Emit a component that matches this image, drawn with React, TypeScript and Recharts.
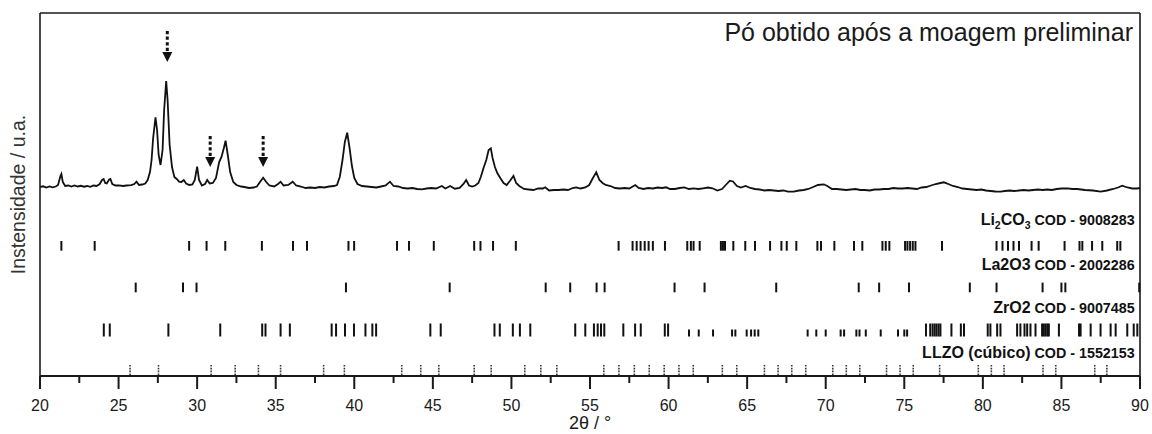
import { ComposedChart, Line, Scatter, XAxis, YAxis, ReferenceLine } from 'recharts';

// diffractogram (2θ in degrees, intensity in arbitrary units)
const twoTheta = [
  20.0, 20.2, 20.4, 20.6, 20.8, 21.0, 21.15, 21.3, 21.36, 21.45, 21.6, 21.8, 22.0, 22.2, 22.4, 22.6, 22.8,
  23.0, 23.2, 23.4, 23.6, 23.8, 23.95, 24.05, 24.15, 24.25, 24.4, 24.48, 24.6, 24.8, 25.0, 25.3, 25.5, 25.8,
  26.0, 26.14, 26.3, 26.5, 26.7, 26.85, 27.0, 27.1, 27.2, 27.35, 27.45, 27.55, 27.67, 27.8, 27.9, 28.03,
  28.12, 28.25, 28.4, 28.55, 28.7, 28.85, 29.0, 29.15, 29.3, 29.5, 29.7, 29.85, 30.0, 30.12, 30.3, 30.5,
  30.64, 30.8, 31.0, 31.2, 31.4, 31.55, 31.7, 31.81, 31.95, 32.1, 32.3, 32.5, 32.8, 33.0, 33.3, 33.6, 33.8,
  34.0, 34.2, 34.4, 34.6, 34.9, 35.15, 35.31, 35.5, 35.8, 36.08, 36.3, 36.6, 36.9, 37.2, 37.5, 37.8, 38.1,
  38.4, 38.7, 38.9, 39.08, 39.25, 39.4, 39.55, 39.7, 39.85, 40.0, 40.2, 40.5, 40.8, 41.1, 41.4, 41.7, 42.0,
  42.27, 42.5, 42.8, 43.1, 43.4, 43.7, 44.0, 44.3, 44.6, 44.9, 45.2, 45.57, 45.8, 46.1, 46.4, 46.7, 46.95,
  47.12, 47.3, 47.5, 47.7, 47.9, 48.05, 48.22, 48.4, 48.55, 48.69, 48.8, 48.95, 49.1, 49.3, 49.5, 49.7,
  49.9, 50.13, 50.3, 50.5, 50.8, 51.1, 51.4, 51.7, 52.0, 52.15, 52.4, 52.7, 53.0, 53.3, 53.6, 53.9, 54.12,
  54.4, 54.7, 54.95, 55.15, 55.4, 55.6, 55.8, 56.0, 56.3, 56.6, 56.9, 57.2, 57.5, 57.88, 58.1, 58.4, 58.7,
  59.0, 59.3, 59.6, 59.84, 60.1, 60.4, 60.7, 61.0, 61.3, 61.6, 61.9, 62.2, 62.5, 62.8, 63.1, 63.4, 63.7,
  63.9, 64.1, 64.35, 64.6, 64.9, 65.2, 65.5, 65.8, 66.1, 66.4, 66.7, 67.0, 67.3, 67.6, 67.96, 68.3, 68.6,
  68.9, 69.2, 69.5, 69.88, 70.1, 70.4, 70.7, 71.0, 71.3, 71.6, 71.9, 72.2, 72.5, 72.8, 73.1, 73.4, 73.7,
  74.0, 74.3, 74.6, 74.9, 75.2, 75.5, 75.8, 76.1, 76.4, 76.7, 77.0, 77.3, 77.52, 77.8, 78.1, 78.4, 78.7,
  79.0, 79.3, 79.6, 79.9, 80.2, 80.5, 80.8, 81.13, 81.4, 81.7, 82.0, 82.3, 82.6, 82.9, 83.2, 83.5, 83.8,
  84.1, 84.4, 84.7, 85.0, 85.37, 85.7, 86.0, 86.5, 87.0, 87.5, 87.9, 88.3, 88.6, 88.87, 89.2, 89.5, 89.8, 90.0,
];
const intensity = [
  189, 189.7, 188.5, 189.5, 188.7, 189.5, 191, 200, 202, 194, 190, 190.5, 189.5, 190.5, 189.5, 190.2, 189.3,
  190, 189.2, 190.5, 190, 192, 196, 197, 193, 192.5, 196.5, 197, 192, 190.5, 190.7, 190, 190.5, 190.8,
  192, 194.3, 191, 191.5, 192.5, 196, 204, 216, 238, 258.7, 246, 221, 211, 226, 266, 295,
  276, 231, 209, 199, 197, 194.3, 194, 196, 192.5, 191, 191.5, 196, 209.3, 196, 190.5, 192,
  196, 192.5, 193, 198, 214, 219, 228, 235.3, 221, 204, 194, 191, 189.5, 189, 188, 188.5, 189.5,
  194, 198.3, 194, 190.5, 189.5, 192, 194.3, 190.5, 191, 194.3, 190.5, 189.5, 188, 188.5, 188, 189, 188.5,
  189.5, 190, 191, 199.3, 216, 234, 243.3, 228, 210, 198, 192, 190, 189.5, 189, 188.5, 189.5, 190.5,
  194.3, 190, 189.5, 188, 187.5, 188, 187, 186.7, 187.5, 188, 187.5, 190, 187.5, 190, 187.3, 188, 192,
  196, 190.5, 189.5, 190.5, 193, 199, 207.7, 216, 226, 227.7, 218, 209, 203, 197.7, 193, 191,
  195, 200, 193, 190, 187, 186.5, 186, 187.5, 187.5, 188.7, 185.5, 186, 186, 186.5, 186, 188, 188.7,
  187.5, 188.5, 191, 197, 203.7, 196, 193, 191, 190, 188, 187.5, 188, 187.5, 191, 188, 187, 188,
  187.5, 188.5, 188, 188.7, 187, 187, 188, 188.7, 187, 187.7, 187, 187.7, 188.5, 187.7, 185.5, 187, 192,
  195.3, 194.5, 190, 188.5, 190, 188, 187, 186.5, 185.5, 186, 185.5, 185, 185.5, 184.3, 184.3, 185.5, 186,
  187, 189, 191, 191.7, 190, 187, 187, 186.5, 186, 186.5, 187, 186, 186, 185.5, 186.5, 186.5, 187,
  187, 188, 187.5, 187.5, 188, 187.5, 187, 188.5, 189, 190.5, 192, 193, 193.7, 192, 190, 189, 187.5,
  187, 186.5, 186, 186.5, 185.5, 185, 184.5, 184.3, 185, 185.5, 185, 185.5, 186, 185.5, 186, 186.5, 186,
  186.5, 186, 187, 187.5, 187.7, 187, 187, 186, 185.5, 184.3, 185.5, 187, 188.5, 190.3, 188.5, 187.5, 187.5, 188,
];

// reference stick positions (2θ)
const li2co3Peaks = [
  21.36, 23.48, 29.49, 30.6, 31.79, 34.12, 36.1, 36.99, 39.63, 39.99, 42.72, 43.48, 45.06, 47.63, 48.03,
  48.83, 50.28, 56.82, 57.71, 57.97, 58.22, 58.48, 58.73, 59.0, 59.77, 61.19, 61.42, 61.59, 61.98, 63.33,
  63.46, 63.59, 64.12, 64.88, 65.5, 66.46, 67.18, 67.52, 68.13, 69.47, 69.7, 70.55, 71.8, 72.33, 73.61,
  73.82, 74.05, 75.05, 75.2, 75.37, 75.54, 75.71, 77.4, 80.87, 81.25, 81.6, 81.95, 82.3, 83.1, 83.55,
  85.2, 86.15, 86.33, 86.95, 87.6, 88.55, 88.75,
];
const la2o3Peaks = [
  26.09, 29.1, 29.96, 39.47, 46.07, 52.18, 53.74, 55.42, 55.93, 60.38, 62.29, 66.85, 72.1, 73.4, 75.3,
  79.17, 80.87, 83.8, 85.0, 85.25, 89.95,
];
const zro2Peaks = [
  24.06, 24.44, 28.17, 31.47, 34.14, 34.35, 35.31, 35.9, 38.56, 38.84, 39.41, 39.98, 40.71, 41.15, 41.39,
  44.84, 45.5, 48.92, 49.26, 50.09, 50.54, 51.2, 54.06, 54.7, 55.25, 55.49, 55.7, 55.91, 57.12, 57.87,
  58.23, 59.76, 59.97, 76.38, 76.65, 76.8, 76.93, 77.05, 77.18, 77.3, 78.0, 78.6, 78.8, 80.31, 80.48,
  80.91, 81.12, 82.18, 82.39, 82.65, 82.82, 83.03, 83.35, 83.77, 83.88, 83.99, 84.1, 84.2, 84.84, 86.12,
  86.22, 86.86, 87.49, 88.13, 88.45, 89.19, 89.6, 89.83,
];
const zro2WeakPeaks = [
  61.3, 61.92, 62.83, 64.04, 64.25, 64.97, 65.25, 65.48, 65.71, 68.85, 69.4, 70.0, 70.95, 71.17, 71.95,
  72.15, 72.55, 73.5, 74.6, 75.0, 75.18,
];
const llzoPeaks = [
  25.73, 27.54, 30.89, 32.42, 33.9, 35.31, 38.05, 39.37, 43.02, 44.23, 45.38, 47.63, 48.71, 50.85, 51.87,
  52.89, 55.88, 56.84, 57.82, 58.77, 59.72, 60.66, 61.57, 63.42, 64.34, 66.1, 66.97, 67.84, 68.73, 70.45,
  71.31, 72.17, 73.87, 74.73, 75.57, 77.25, 79.71, 80.54, 81.35, 83.83, 84.64, 87.12, 87.89,
];

// arrows marking unindexed reflections
const markedPeaks = [28.1, 30.83, 34.2];
const markerTips = [314, 209, 209];

const phaseNames = ['Li2CO3', 'La2O3', 'ZrO2', 'LLZO (cúbico)'];
const phaseCodes = ['COD - 9008283', 'COD - 2002286', 'COD - 9007485', 'COD - 1552153'];
const phaseSubscript = [true, false, false, false];
const rowLevels = [125.3, 83.7, 39.5, 1];
const labelLevels = [151, 106.5, 63.3, 17.7];

const xTicks = [20, 22.5, 25, 27.5, 30, 32.5, 35, 37.5, 40, 42.5, 45, 47.5, 50, 52.5, 55, 57.5, 60, 62.5,
  65, 67.5, 70, 72.5, 75, 77.5, 80, 82.5, 85, 87.5, 90];

const FONT = '"Liberation Sans", Arial, sans-serif';
const INK = '#1a1a1a';

const pattern = twoTheta.map((x, i) => ({ x, y: intensity[i] }));
const sticks = (peaks: number[], level: number) => peaks.map((x) => ({ x, y: level }));
const arrows = markedPeaks.map((x, i) => ({ x, y: markerTips[i] }));
const labels = phaseNames.map((name, i) => ({ x: 89.66, y: labelLevels[i], name, code: phaseCodes[i], sub: phaseSubscript[i] }));

const stick = (h: number, dashed = false) => (p: any) => (
  <line
    x1={p.cx}
    x2={p.cx}
    y1={p.cy}
    y2={p.cy - h}
    stroke={dashed ? '#3a3a3a' : '#111'}
    strokeWidth={dashed ? 1.6 : 2}
    strokeDasharray={dashed ? '1.6 1.2' : undefined}
  />
);

const Arrow = (p: any) => (
  <g>
    <line x1={p.cx} x2={p.cx} y1={p.cy - 31} y2={p.cy - 11} stroke="#111" strokeWidth={3} strokeDasharray="3.2 2.4" />
    <path d={`M${p.cx - 5},${p.cy - 10} L${p.cx + 5},${p.cy - 10} L${p.cx},${p.cy} Z`} fill="#111" />
  </g>
);

const formula = (name: string, sub: boolean) => {
  if (!sub) return <tspan fontSize={16}>{name}</tspan>;
  return name.split(/(\d)/).filter(Boolean).map((part, i) =>
    /\d/.test(part)
      ? <tspan key={i} fontSize={10.5} dy={4}>{part}</tspan>
      : <tspan key={i} fontSize={16} dy={i === 0 ? 0 : -4}>{part}</tspan>
  );
};

const PhaseLabel = (p: any) => {
  const d = p.payload ?? p;
  return (
    <text x={p.cx} y={p.cy} textAnchor="end" fontWeight="bold" fill="#111" fontFamily={FONT}>
      {formula(d.name, d.sub)}
      <tspan fontSize={14.3} dy={d.sub ? -4 : 0}>{' ' + d.code}</tspan>
    </text>
  );
};

const XTick = (p: any) => {
  const v = p.payload.value;
  const major = v % 5 === 0;
  return (
    <g>
      <line x1={p.x} x2={p.x} y1={p.y} y2={p.y + (major ? 13 : 7)} stroke={INK} strokeWidth={2} />
      {major && (
        <text x={p.x} y={p.y + 35} textAnchor="middle" fontSize={16} fill={INK} fontFamily={FONT}>
          {v}
        </text>
      )}
    </g>
  );
};

export default function App() {
  return (
    <div style={{ position: 'absolute', left: 0, top: 0, width: 1152, height: 434, background: '#fff', fontFamily: FONT }}>
      <div
        style={{
          position: 'absolute',
          right: 19,
          top: 20,
          fontSize: 25,
          lineHeight: '25px',
          color: INK,
          fontFamily: FONT,
          zIndex: 2,
        }}
      >
        Pó obtido após a moagem preliminar
      </div>
      <ComposedChart width={1152} height={434} margin={{ top: 13, right: 12, bottom: 0, left: 0 }} style={{ fontFamily: FONT }}>
        <XAxis
          type="number"
          dataKey="x"
          domain={[20, 90]}
          ticks={xTicks}
          interval={0}
          height={58}
          tickSize={0}
          tickMargin={0}
          tickLine={false}
          axisLine={{ stroke: INK, strokeWidth: 2 }}
          tick={<XTick />}
          label={{ value: '2θ / °', position: 'insideBottom', offset: 5, fill: INK, fontSize: 18 }}
        />
        <YAxis
          type="number"
          dataKey="y"
          domain={[0, 363]}
          width={40}
          tick={false}
          tickLine={false}
          axisLine={{ stroke: INK, strokeWidth: 1.6 }}
          label={{ value: 'Instensidade / u.a.', angle: -90, position: 'center', dx: -2, fill: '#333', fontSize: 19.5 }}
        />
        <ReferenceLine y={363} stroke={INK} strokeWidth={1.6} />
        <ReferenceLine x={90} stroke={INK} strokeWidth={1.6} />
        <Line data={pattern} dataKey="y" type="linear" stroke="#111" strokeWidth={1.8} dot={false} isAnimationActive={false} />
        <Scatter data={sticks(li2co3Peaks, rowLevels[0])} dataKey="y" shape={stick(9.7)} isAnimationActive={false} />
        <Scatter data={sticks(la2o3Peaks, rowLevels[1])} dataKey="y" shape={stick(9.7)} isAnimationActive={false} />
        <Scatter data={sticks(zro2Peaks, rowLevels[2])} dataKey="y" shape={stick(13)} isAnimationActive={false} />
        <Scatter data={sticks(zro2WeakPeaks, rowLevels[2])} dataKey="y" shape={stick(7)} isAnimationActive={false} />
        <Scatter data={sticks(llzoPeaks, rowLevels[3])} dataKey="y" shape={stick(10, true)} isAnimationActive={false} />
        <Scatter data={arrows} dataKey="y" shape={Arrow} isAnimationActive={false} />
        <Scatter data={labels} dataKey="y" shape={PhaseLabel} isAnimationActive={false} />
      </ComposedChart>
    </div>
  );
}
